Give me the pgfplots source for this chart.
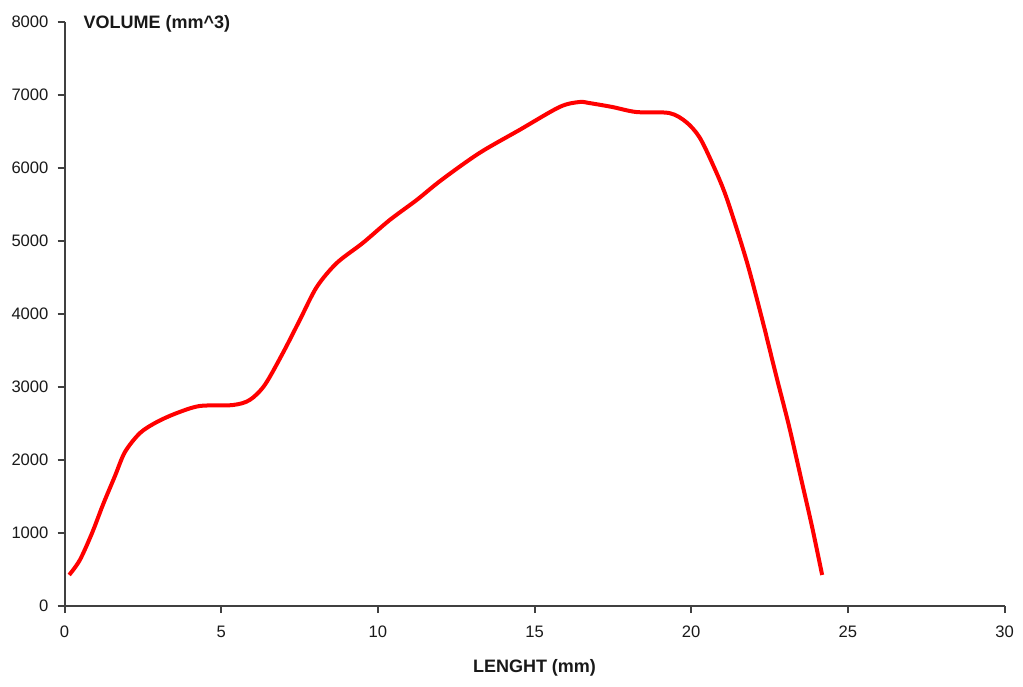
\documentclass[border=0pt]{standalone}
\usepackage{fontspec}
\setmainfont{Liberation Sans}
\usepackage{pgfplots}
\pgfplotsset{compat=1.18}

\begin{document}
\begin{tikzpicture}
% fix page to reference proportions (1 px = 0.5pt)
\useasboundingbox (-32.25pt,-40pt) rectangle (479.25pt,303pt);
\begin{axis}[
    scale only axis,
    width=470pt, height=292pt,
    anchor=south west, at={(0,0)},
    xmin=0, xmax=30, ymin=0, ymax=8000,
    xtick={0,5,...,30}, ytick={0,1000,...,8000},
    axis lines=left,
    axis line style={-, draw=black!75, line width=1pt},
    tick style={draw=black!75, line width=1pt},
    tick align=outside,
    major tick length=3.5pt,
    minor tick num=0,
    clip=false,
    /pgf/number format/assume math mode=true,
    scaled y ticks=false,
    yticklabel style={/pgf/number format/fixed, /pgf/number format/1000 sep={}},
    tick label style={font=\fontsize{8.3}{10}\selectfont, text=black!90},
    xticklabel style={yshift=-3pt},
    yticklabel style={xshift=-1pt},
    xlabel={\textbf{LENGHT (mm)}},
    ylabel={\textbf{VOLUME (mm\^{}3)}},
    every axis x label/.style={at={(rel axis cs:0.5,0)}, anchor=center, yshift=-31pt,
        font=\fontsize{9}{11}\selectfont\bfseries, text=black!90},
    every axis y label/.style={at={(rel axis cs:0,1)}, anchor=west, xshift=6pt, yshift=-1pt,
        font=\fontsize{9}{11}\selectfont\bfseries, text=black!90},
]
\addplot[red, line width=2pt, smooth, tension=0.5] coordinates {
(0.15,425) (0.49,630) (0.88,1000) (1.23,1390) (1.61,1780) (1.93,2110)
(2.41,2370) (2.95,2521) (3.59,2644) (4.32,2740) (5.37,2753) (5.91,2822)
(6.39,3027) (6.97,3466) (7.51,3918) (8.05,4370) (8.69,4699) (9.52,4973)
(10.38,5288) (11.24,5562) (12.03,5836) (13.24,6205) (14.52,6521) (15.80,6836)
(16.43,6904) (16.75,6890) (17.48,6836) (18.25,6767) (19.30,6753) (19.84,6630)
(20.26,6425) (20.67,6068) (21.12,5603) (21.76,4740) (22.27,3920) (22.71,3160)
(23.13,2452) (23.54,1685) (23.86,1082) (24.18,425)
};
\end{axis}
\end{tikzpicture}
\end{document}
